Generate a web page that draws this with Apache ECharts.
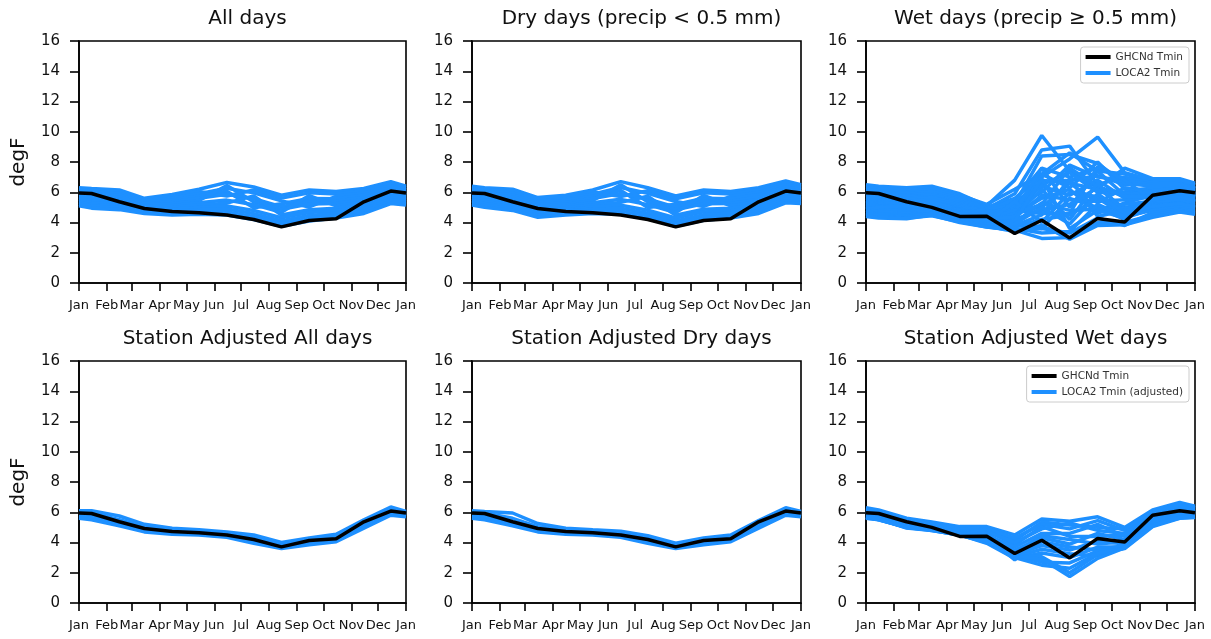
<!DOCTYPE html>
<html>
<head>
<meta charset="utf-8">
<script src="https://cdn.jsdelivr.net/npm/echarts@6.0.0/dist/echarts.min.js"></script>
<style>
  html, body { margin: 0; padding: 0; background: #fff; }
  #chart { width: 1211px; height: 639px; }
</style>
</head>
<body>
<div id="chart"></div>
<script>
// x axis: day of year, ticks at the first of each month
const monthNames = ["Jan", "Feb", "Mar", "Apr", "May", "Jun", "Jul", "Aug", "Sep", "Oct", "Nov", "Dec", "Jan"];
const monthStarts = [0, 31, 59, 90, 120, 151, 181, 212, 243, 273, 304, 334, 365];
// points: year edges plus the 15th of each month
const pointDays = [0, 14, 45, 73, 104, 134, 165, 195, 226, 257, 287, 318, 348, 365];

// GHCNd Tmin (observed)
const ghcnAll = [5.95, 5.92, 5.37, 4.93, 4.72, 4.65, 4.5, 4.2, 3.71, 4.13, 4.25, 5.37, 6.08, 5.95];
const ghcnWet = [5.97, 5.92, 5.37, 5.0, 4.4, 4.42, 3.27, 4.15, 2.98, 4.27, 4.04, 5.8, 6.1, 5.97];

// LOCA2 Tmin ensemble, all days
const locaAll = [
  [6.30, 6.25, 6.15, 5.60, 5.85, 6.20, 6.65, 6.35, 5.80, 6.15, 6.05, 6.25, 6.70, 6.40],
  [6.19, 6.13, 6.03, 5.51, 5.73, 6.05, 5.75, 6.15, 5.61, 5.96, 5.89, 6.10, 6.57, 6.29],
  [6.08, 6.01, 5.91, 5.42, 5.60, 5.90, 6.26, 5.96, 5.43, 5.03, 5.73, 5.95, 6.44, 6.17],
  [5.97, 5.90, 5.80, 5.33, 5.48, 5.75, 6.06, 4.98, 5.24, 5.59, 5.57, 5.80, 6.30, 6.06],
  [5.86, 5.78, 5.68, 5.24, 5.36, 5.60, 5.87, 5.57, 5.05, 5.40, 5.41, 5.65, 6.17, 5.95],
  [5.75, 5.66, 5.56, 5.15, 5.24, 5.45, 6.45, 5.37, 4.87, 5.22, 5.25, 5.50, 6.04, 5.83],
  [5.65, 5.54, 5.44, 5.05, 5.11, 5.30, 5.48, 5.18, 4.68, 5.78, 5.10, 5.35, 5.91, 5.72],
  [5.54, 5.42, 5.32, 4.96, 4.99, 5.15, 5.28, 5.76, 4.49, 4.84, 4.94, 5.20, 5.78, 5.60],
  [5.43, 5.30, 5.20, 4.87, 4.87, 5.00, 5.09, 4.79, 4.31, 4.66, 4.78, 5.05, 5.65, 5.49],
  [5.32, 5.19, 5.09, 4.78, 4.75, 4.85, 4.89, 4.59, 4.12, 4.47, 4.62, 4.90, 5.51, 5.38],
  [5.21, 5.07, 4.97, 4.69, 4.62, 4.70, 4.70, 4.40, 3.94, 4.29, 4.46, 4.75, 5.38, 5.26],
  [5.10, 4.95, 4.85, 4.60, 4.50, 4.55, 4.50, 4.20, 3.75, 4.10, 4.30, 4.60, 5.25, 5.15]
];

// LOCA2 Tmin ensemble, dry days
const locaDry = [
  [6.40, 6.30, 6.20, 5.65, 5.80, 6.15, 6.70, 6.30, 5.75, 6.15, 6.05, 6.30, 6.75, 6.50],
  [6.29, 6.18, 6.07, 5.53, 5.68, 6.01, 5.72, 6.11, 5.57, 5.97, 5.89, 6.15, 6.62, 6.39],
  [6.17, 6.06, 5.95, 5.41, 5.56, 5.87, 6.31, 5.93, 5.39, 5.06, 5.73, 5.99, 6.49, 6.27],
  [6.06, 5.95, 5.82, 5.30, 5.45, 5.73, 6.11, 4.99, 5.20, 5.60, 5.57, 5.84, 6.35, 6.16],
  [5.95, 5.83, 5.69, 5.18, 5.33, 5.59, 5.92, 5.55, 5.02, 5.42, 5.41, 5.68, 6.22, 6.05],
  [5.83, 5.71, 5.56, 5.06, 5.21, 5.45, 6.50, 5.37, 4.84, 5.24, 5.25, 5.53, 6.09, 5.93],
  [5.72, 5.59, 5.44, 4.94, 5.09, 5.30, 5.53, 5.18, 4.66, 5.79, 5.10, 5.38, 5.96, 5.82],
  [5.60, 5.47, 5.31, 4.82, 4.97, 5.16, 5.33, 5.74, 4.48, 4.88, 4.94, 5.22, 5.83, 5.70],
  [5.49, 5.35, 5.18, 4.70, 4.85, 5.02, 5.14, 4.81, 4.30, 4.70, 4.78, 5.07, 5.70, 5.59],
  [5.38, 5.24, 5.05, 4.59, 4.74, 4.88, 4.94, 4.62, 4.11, 4.51, 4.62, 4.91, 5.56, 5.48],
  [5.26, 5.12, 4.93, 4.47, 4.62, 4.74, 4.75, 4.44, 3.93, 4.33, 4.46, 4.76, 5.43, 5.36],
  [5.15, 5.00, 4.80, 4.35, 4.50, 4.60, 4.55, 4.25, 3.75, 4.15, 4.30, 4.60, 5.30, 5.25]
];

// LOCA2 Tmin ensemble, wet days
const locaWet = [
  [6.50, 6.40, 6.30, 6.40, 5.90, 5.10, 6.80, 9.75, 7.40, 6.30, 7.60, 6.90, 6.90, 6.60],
  [6.35, 6.25, 6.15, 6.30, 5.80, 5.20, 6.20, 7.20, 8.60, 7.40, 7.20, 6.70, 6.75, 6.45],
  [6.20, 6.10, 6.00, 6.20, 5.70, 5.00, 5.60, 7.00, 8.20, 9.65, 7.30, 6.80, 6.80, 6.50],
  [6.05, 6.00, 5.90, 6.05, 5.60, 4.95, 5.30, 6.70, 6.80, 7.10, 6.50, 6.55, 6.50, 6.20],
  [6.00, 5.90, 5.80, 5.90, 5.50, 4.90, 5.90, 8.80, 9.05, 6.50, 7.00, 6.60, 6.60, 6.30],
  [5.95, 5.85, 5.70, 5.80, 5.40, 4.85, 5.50, 7.60, 7.00, 7.60, 6.90, 6.65, 6.55, 6.25],
  [5.90, 5.80, 5.50, 5.60, 5.20, 4.60, 5.00, 6.00, 7.80, 7.00, 6.80, 6.50, 6.50, 6.20],
  [5.80, 5.70, 5.60, 5.70, 5.30, 4.80, 5.20, 8.40, 8.50, 7.90, 6.60, 6.40, 6.40, 6.10],
  [5.70, 5.60, 5.50, 5.65, 5.20, 4.75, 4.80, 5.00, 6.60, 6.20, 6.00, 6.30, 6.30, 6.00],
  [5.60, 5.50, 5.40, 5.50, 5.10, 4.70, 4.90, 7.20, 6.30, 8.00, 6.20, 6.20, 6.20, 5.90],
  [5.50, 5.40, 4.90, 5.20, 4.60, 4.30, 3.90, 3.60, 5.60, 5.00, 4.20, 5.60, 5.90, 5.60],
  [5.45, 5.35, 5.25, 5.35, 5.00, 4.55, 5.10, 6.40, 5.80, 6.80, 5.60, 5.90, 6.10, 5.75],
  [5.40, 5.30, 5.20, 5.30, 4.90, 4.50, 4.60, 6.50, 7.30, 6.00, 5.90, 6.00, 6.00, 5.70],
  [5.35, 5.25, 5.10, 5.20, 4.85, 4.45, 4.90, 6.80, 6.60, 5.30, 6.30, 6.05, 6.15, 5.70],
  [5.30, 5.20, 5.30, 5.40, 4.80, 4.40, 4.70, 7.60, 5.00, 7.40, 5.80, 6.10, 6.30, 5.80],
  [5.25, 5.15, 5.05, 5.15, 4.80, 4.35, 4.50, 5.60, 6.20, 4.60, 5.30, 5.80, 5.90, 5.60],
  [5.20, 5.10, 5.00, 5.10, 4.70, 4.30, 4.30, 5.80, 5.50, 5.40, 5.50, 5.70, 5.80, 5.50],
  [5.15, 5.05, 4.95, 5.05, 4.65, 4.25, 4.80, 4.60, 4.60, 7.70, 6.80, 5.45, 5.65, 5.40],
  [5.10, 5.00, 4.70, 4.80, 4.40, 4.00, 5.40, 4.00, 6.00, 5.70, 5.00, 5.30, 5.40, 5.20],
  [5.05, 4.95, 4.85, 5.00, 4.60, 4.15, 4.20, 4.80, 5.20, 6.30, 4.90, 5.20, 5.60, 5.35],
  [5.00, 4.90, 4.80, 4.90, 4.50, 4.10, 4.00, 5.30, 4.80, 4.90, 5.20, 5.40, 5.50, 5.30],
  [4.95, 4.85, 4.75, 4.85, 4.45, 4.05, 4.60, 5.20, 7.60, 6.40, 5.70, 5.75, 5.75, 5.45],
  [4.90, 5.00, 5.10, 5.00, 4.60, 4.20, 4.40, 6.20, 4.20, 6.60, 4.60, 5.50, 5.70, 5.40],
  [4.85, 4.75, 4.65, 4.80, 4.40, 4.00, 3.70, 4.20, 4.50, 5.60, 4.50, 5.00, 5.30, 5.00],
  [4.80, 4.70, 4.60, 4.70, 4.30, 3.95, 3.80, 4.50, 6.90, 4.40, 4.80, 5.10, 5.20, 5.10],
  [4.70, 4.60, 4.50, 4.60, 4.20, 3.90, 4.10, 6.90, 3.60, 4.80, 4.30, 4.90, 5.10, 4.95],
  [4.65, 4.55, 4.45, 4.60, 4.20, 3.85, 3.90, 5.00, 3.90, 5.90, 4.60, 5.05, 5.25, 5.05],
  [4.60, 4.50, 4.40, 4.55, 4.15, 3.80, 3.60, 3.30, 3.40, 5.20, 4.40, 4.80, 5.00, 4.90],
  [4.55, 4.45, 4.35, 4.60, 4.10, 3.75, 3.40, 3.60, 3.30, 4.30, 3.80, 4.65, 4.90, 4.75],
  [4.45, 4.35, 4.30, 4.45, 4.05, 3.70, 3.50, 2.95, 3.00, 4.00, 4.00, 4.50, 4.80, 4.65],
  [4.40, 4.30, 4.25, 4.50, 4.00, 3.70, 3.50, 3.80, 2.90, 3.80, 3.85, 4.35, 4.70, 4.55]
];

// LOCA2 Tmin (adjusted), all days
const adjAll = [
  [6.10, 6.10, 5.75, 5.20, 4.95, 4.85, 4.70, 4.50, 4.00, 4.30, 4.55, 5.50, 6.35, 6.05],
  [5.95, 5.95, 5.50, 5.05, 4.80, 4.75, 4.60, 4.30, 3.85, 4.20, 4.40, 5.35, 6.15, 5.95],
  [5.80, 5.75, 5.30, 4.90, 4.70, 4.60, 4.45, 4.15, 3.75, 4.05, 4.25, 5.20, 6.00, 5.85],
  [5.70, 5.60, 5.20, 4.80, 4.60, 4.55, 4.40, 4.05, 3.65, 3.95, 4.15, 5.05, 5.90, 5.75],
  [5.60, 5.50, 5.10, 4.70, 4.55, 4.50, 4.35, 3.95, 3.60, 3.85, 4.05, 4.95, 5.80, 5.70]
];

// LOCA2 Tmin (adjusted), dry days
const adjDry = [
  [6.10, 6.05, 5.95, 5.25, 4.95, 4.85, 4.75, 4.45, 3.95, 4.30, 4.50, 5.45, 6.30, 6.05],
  [5.95, 5.95, 5.60, 5.05, 4.80, 4.75, 4.60, 4.30, 3.85, 4.20, 4.40, 5.35, 6.15, 5.95],
  [5.80, 5.75, 5.35, 4.90, 4.70, 4.60, 4.45, 4.15, 3.75, 4.05, 4.25, 5.20, 6.00, 5.85],
  [5.70, 5.60, 5.20, 4.80, 4.60, 4.55, 4.40, 4.05, 3.65, 3.95, 4.15, 5.05, 5.90, 5.75],
  [5.60, 5.50, 5.10, 4.70, 4.55, 4.50, 4.35, 3.95, 3.60, 3.85, 4.05, 4.95, 5.80, 5.70]
];

// LOCA2 Tmin (adjusted), wet days
const adjWet = [
  [6.30, 6.15, 5.60, 5.35, 5.05, 5.05, 4.50, 5.55, 5.40, 5.70, 5.00, 6.15, 6.65, 6.40],
  [6.22, 6.10, 5.55, 5.30, 5.00, 4.95, 4.15, 5.35, 5.15, 5.00, 4.90, 6.05, 6.55, 6.30],
  [6.15, 6.05, 5.50, 5.25, 4.95, 4.90, 4.30, 5.20, 4.90, 5.45, 4.80, 6.00, 6.45, 6.25],
  [6.08, 5.98, 5.42, 5.18, 4.88, 4.80, 3.85, 5.05, 4.40, 4.40, 4.50, 5.90, 6.35, 6.15],
  [6.00, 5.90, 5.35, 5.10, 4.80, 4.70, 4.00, 4.90, 5.30, 4.80, 4.60, 5.85, 6.25, 6.05],
  [5.92, 5.82, 5.30, 5.05, 4.72, 4.60, 3.35, 4.45, 4.20, 3.90, 4.05, 5.75, 6.18, 6.00],
  [5.85, 5.75, 5.25, 5.00, 4.65, 4.50, 3.70, 4.60, 4.60, 5.20, 4.40, 5.70, 6.10, 5.95],
  [5.80, 5.70, 5.20, 4.95, 4.60, 4.40, 2.85, 4.05, 3.70, 3.50, 3.80, 5.60, 6.02, 5.90],
  [5.75, 5.65, 5.15, 4.90, 4.55, 4.30, 3.50, 4.30, 3.90, 4.60, 4.20, 5.55, 5.95, 5.85],
  [5.70, 5.60, 5.10, 4.88, 4.52, 4.20, 3.05, 3.55, 3.25, 3.10, 3.75, 5.45, 5.88, 5.80],
  [5.65, 5.55, 5.05, 4.85, 4.50, 4.10, 3.20, 3.80, 3.50, 4.10, 3.90, 5.40, 5.80, 5.75],
  [5.62, 5.52, 5.02, 4.82, 4.48, 4.05, 3.15, 2.70, 2.65, 3.45, 3.70, 5.30, 5.75, 5.72],
  [5.60, 5.50, 5.00, 4.80, 4.50, 3.95, 2.95, 3.30, 3.00, 3.70, 3.70, 5.20, 5.70, 5.70],
  [5.66, 5.56, 4.98, 4.84, 4.55, 4.05, 3.10, 3.05, 2.00, 3.20, 3.65, 5.15, 5.62, 5.68],
  [5.65, 5.55, 4.95, 4.80, 4.50, 4.00, 3.00, 2.50, 2.30, 3.30, 3.60, 5.05, 5.60, 5.65],
  [5.70, 5.50, 5.00, 4.85, 4.60, 4.10, 3.10, 2.90, 1.75, 2.95, 3.65, 5.10, 5.65, 5.70]
];

const panels = [
  { title: "All days", obs: ghcnAll, model: locaAll, name: "LOCA2 Tmin", yName: "degF" },
  { title: "Dry days (precip < 0.5 mm)", obs: ghcnAll, model: locaDry, name: "LOCA2 Tmin", yName: "" },
  { title: "Wet days (precip \u2265 0.5 mm)", obs: ghcnWet, model: locaWet, name: "LOCA2 Tmin", yName: "" },
  { title: "Station Adjusted All days", obs: ghcnAll, model: adjAll, name: "LOCA2 Tmin (adjusted)", yName: "degF" },
  { title: "Station Adjusted Dry days", obs: ghcnAll, model: adjDry, name: "LOCA2 Tmin (adjusted)", yName: "" },
  { title: "Station Adjusted Wet days", obs: ghcnWet, model: adjWet, name: "LOCA2 Tmin (adjusted)", yName: "" }
];

const FONT = "DejaVu Sans";
const lefts = [79, 472, 866];
const widths = [327, 329, 329];
const tops = [41, 361];
const plotHeight = 242;

function toPoints(values) {
  return values.map((v, i) => [pointDays[i], v]);
}

let grids = [], xAxes = [], yAxes = [], titles = [], series = [];

panels.forEach((p, k) => {
  let col = k % 3, row = Math.floor(k / 3);
  grids.push({
    left: lefts[col], top: tops[row], width: widths[col], height: plotHeight,
    show: true, borderColor: "#000", borderWidth: 1.6, backgroundColor: "transparent"
  });
  titles.push({
    text: p.title,
    left: lefts[col] + widths[col] / 2,
    top: tops[row] - 37,
    textAlign: "center",
    textStyle: { fontFamily: FONT, fontSize: 20, fontWeight: "normal", color: "#111" }
  });
  xAxes.push({
    gridIndex: k, type: "value", min: 0, max: 365,
    axisLine: { show: true, lineStyle: { color: "#000", width: 1.6 } },
    axisTick: { show: true, length: 8, lineStyle: { color: "#000", width: 1.6 }, customValues: monthStarts },
    axisLabel: {
      customValues: monthStarts, margin: 16,
      fontFamily: FONT, fontSize: 13, color: "#111",
      formatter: v => monthNames[monthStarts.indexOf(v)]
    },
    splitLine: { show: false }
  });
  yAxes.push({
    gridIndex: k, type: "value", min: 0, max: 16, interval: 2,
    name: p.yName, nameLocation: "middle", nameGap: 50, nameRotate: 90,
    nameTextStyle: { fontFamily: FONT, fontSize: 20, color: "#111" },
    axisLine: { show: true, lineStyle: { color: "#000", width: 1.6 } },
    axisTick: { show: true, length: 9, lineStyle: { color: "#000", width: 1.6 } },
    axisLabel: { margin: 19, fontFamily: FONT, fontSize: 15, color: "#111" },
    splitLine: { show: false }
  });
  p.model.forEach(m => {
    series.push({
      name: p.name, type: "line", xAxisIndex: k, yAxisIndex: k,
      data: toPoints(m), symbol: "none", color: "#1e90ff",
      lineStyle: { width: 3.5, color: "#1e90ff" }, z: 2
    });
  });
  series.push({
    name: "GHCNd Tmin", type: "line", xAxisIndex: k, yAxisIndex: k,
    data: toPoints(p.obs), symbol: "none", color: "#000",
    lineStyle: { width: 3.5, color: "#000" }, z: 3
  });
});

function makeLegend(names, top) {
  return {
    data: names.map(n => ({ name: n, icon: "rect" })),
    orient: "vertical", right: 22, top: top,
    itemWidth: 25, itemHeight: 4, itemGap: 4,
    padding: [4, 6, 4, 5],
    borderColor: "#ccc", borderWidth: 1, borderRadius: 3,
    backgroundColor: "rgba(255,255,255,0.8)",
    textStyle: { fontFamily: FONT, fontSize: 10.5, lineHeight: 12, color: "#333" }
  };
}

let chart = echarts.init(document.getElementById("chart"), null, { renderer: "canvas" });
let option = {
  animation: false,
  backgroundColor: "#fff",
  title: titles,
  grid: grids,
  xAxis: xAxes,
  yAxis: yAxes,
  legend: [
    makeLegend(["GHCNd Tmin", "LOCA2 Tmin"], 47),
    makeLegend(["GHCNd Tmin", "LOCA2 Tmin (adjusted)"], 366)
  ],
  series: series
};
chart.setOption(option);
</script>
</body>
</html>
